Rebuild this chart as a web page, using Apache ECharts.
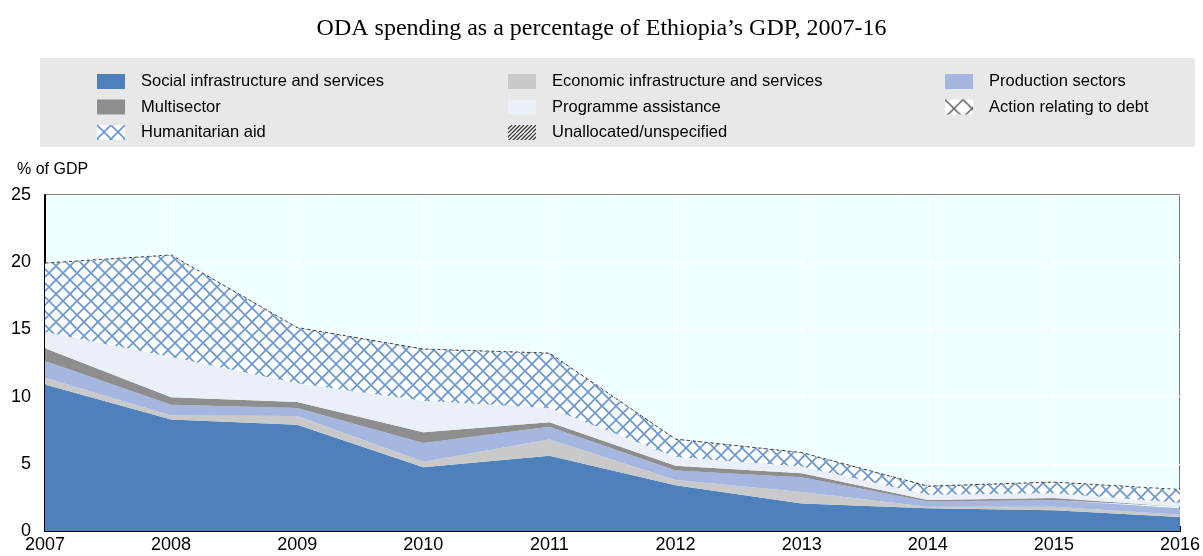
<!DOCTYPE html>
<html>
<head>
<meta charset="utf-8">
<script src="https://cdn.jsdelivr.net/npm/echarts@6/dist/echarts.min.js"></script>
<style>
  html, body { margin: 0; padding: 0; background: #fff; }
  #main { width: 1203px; height: 556px; }
</style>
</head>
<body>
<div id="main"></div>
<script>
// data, % of GDP (stack order bottom to top)
const years = ["2007", "2008", "2009", "2010", "2011", "2012", "2013", "2014", "2015", "2016"];
const social = [10.9, 8.3, 7.9, 4.75, 5.6, 3.4, 2.05, 1.7, 1.55, 1.05];
const economic = [0.5, 0.3, 0.65, 0.4, 1.2, 0.4, 0.85, 0.1, 0.25, 0.15];
const production = [1.25, 0.8, 0.6, 1.4, 0.95, 0.7, 1.1, 0.4, 0.5, 0.5];
const multisector = [0.95, 0.55, 0.45, 0.8, 0.35, 0.35, 0.3, 0.1, 0.15, 0.1];
const programme = [1.2, 3.0, 1.4, 2.35, 1.05, 0.65, 0.5, 0.4, 0.35, 0.3];
const humanitarian = [5.1, 7.55, 4.1, 3.8, 4.05, 1.3, 1.0, 0.6, 0.8, 0.95];
const debt = [0, 0, 0, 0, 0, 0, 0, 0, 0, 0];
const unallocated = [0.04, 0.04, 0.04, 0.04, 0.04, 0.04, 0.04, 0.04, 0.04, 0.04];
const yTicks = [0, 5, 10, 15, 20, 25];

function makePattern(size, color, width, kind) {
  const c = document.createElement("canvas");
  c.width = size;
  c.height = size;
  const ctx = c.getContext("2d");
  ctx.fillStyle = "#ffffff";
  ctx.fillRect(0, 0, size, size);
  ctx.strokeStyle = color;
  ctx.lineWidth = width;
  ctx.beginPath();
  if (kind === "cross") {
    ctx.moveTo(-1, -1); ctx.lineTo(size + 1, size + 1);
    ctx.moveTo(size + 1, -1); ctx.lineTo(-1, size + 1);
  }
  if (kind === "up") {
    ctx.moveTo(size + 1, -1); ctx.lineTo(-1, size + 1);
    ctx.moveTo(size / 2 + 1, -1); ctx.lineTo(-1, size / 2 + 1);
    ctx.moveTo(size + 1, size / 2 - 1); ctx.lineTo(size / 2 - 1, size + 1);
  }
  ctx.stroke();
  return { image: c, repeat: "repeat" };
}

const humPattern = makePattern(14, "#6a98d2", 1.7, "cross");
const debtPattern = makePattern(18, "#555555", 1.4, "cross");
const unallocPattern = makePattern(8, "#333333", 1.3, "up");

const chart = echarts.init(document.getElementById("main"));

function areaSeries(name, data, color, extra) {
  return Object.assign({
    name: name,
    type: "line",
    stack: "total",
    data: data,
    symbol: "none",
    lineStyle: { width: 0 },
    itemStyle: { color: color },
    areaStyle: { color: color, opacity: 1 },
    emphasis: { disabled: true },
  }, extra || {});
}

const font = "Liberation Sans, Arial, sans-serif";
const legendText = { fontFamily: font, fontSize: 16.5, color: "#000", lineHeight: 16, padding: [0, 0, 0, 11] };
const legendBase = {
  top: 73, orient: "vertical", itemWidth: 28, itemHeight: 15, itemGap: 8.5,
  icon: "rect", textStyle: legendText, padding: 0,
};

chart.setOption({
  animation: false,
  title: {
    text: "ODA spending as a percentage of Ethiopia\u2019s GDP, 2007-16",
    left: "center",
    top: 12,
    textStyle: { fontFamily: "Liberation Serif, Times New Roman, serif", fontSize: 24, fontWeight: "normal", color: "#000" },
  },
  graphic: [
    { type: "rect", left: 40, top: 58, shape: { width: 1155, height: 89 }, style: { fill: "#e8e8e8" }, z: -1 },
  ],
  legend: [
    Object.assign({}, legendBase, {
      left: 97,
      data: ["Social infrastructure and services", "Multisector", "Humanitarian aid"],
    }),
    Object.assign({}, legendBase, {
      left: 508,
      data: ["Economic infrastructure and services", "Programme assistance", "Unallocated/unspecified"],
    }),
    Object.assign({}, legendBase, {
      left: 945,
      data: ["Production sectors", "Action relating to debt"],
    }),
  ],
  grid: {
    left: 45, right: 19, top: 195, bottom: 25,
    show: true, backgroundColor: "#f0ffff", borderColor: "#000", borderWidth: 1,
  },
  xAxis: {
    type: "category",
    data: years,
    boundaryGap: false,
    axisLine: { lineStyle: { color: "#000", width: 2 } },
    axisTick: { inside: true, length: 5, lineStyle: { color: "#000" } },
    axisLabel: { fontFamily: font, fontSize: 18, color: "#000", margin: 5 },
    splitLine: { show: true, lineStyle: { color: "#ffffff", width: 1 } },
  },
  yAxis: {
    type: "value",
    min: yTicks[0],
    max: yTicks[yTicks.length - 1],
    interval: 5,
    name: "% of GDP",
    nameLocation: "end",
    nameGap: 17,
    nameTextStyle: { fontFamily: font, fontSize: 16, color: "#000", align: "left", padding: [0, 0, 0, -28] },
    axisLine: { show: true, lineStyle: { color: "#000", width: 2 } },
    axisTick: { show: false },
    axisLabel: { fontFamily: font, fontSize: 18, color: "#000", margin: 14 },
    splitLine: { show: true, lineStyle: { color: "#ffffff", width: 1 } },
  },
  series: [
    areaSeries("Social infrastructure and services", social, "#4e80bc"),
    areaSeries("Economic infrastructure and services", economic, "#c9c9c9"),
    areaSeries("Production sectors", production, "#a5b6e0"),
    areaSeries("Multisector", multisector, "#8e8e8e"),
    areaSeries("Programme assistance", programme, "#ebeff7"),
    areaSeries("Humanitarian aid", humanitarian, humPattern),
    areaSeries("Action relating to debt", debt, debtPattern),
    areaSeries("Unallocated/unspecified", unallocated, unallocPattern, {
      lineStyle: { width: 1, type: [3, 3], color: "#444" },
    }),
  ],
});
</script>
</body>
</html>
